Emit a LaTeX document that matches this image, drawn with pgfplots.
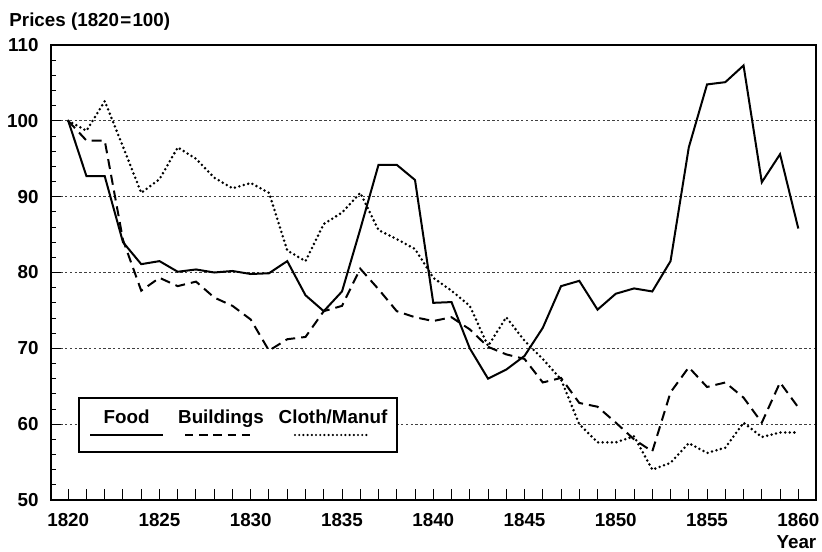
\documentclass[border=0pt]{standalone}
\usepackage{pgfplots}
\pgfplotsset{compat=1.18}
\usepackage{fontspec}
\setmainfont{Liberation Sans}
\usepackage{pgfplotstable}

\pgfplotstableread{
year food build cloth
1820 100   100   100
1821 92.7  97.4  98.7
1822 92.7  97.4  102.6
1823 84.0  84.3  96.6
1824 81.1  77.6  90.5
1825 81.5  79.3  92.3
1826 80.1  78.2  96.5
1827 80.4  78.8  95.0
1828 80.0  76.7  92.5
1829 80.2  75.6  91.1
1830 79.8  73.8  91.8
1831 79.9  69.7  90.5
1832 81.5  71.2  82.9
1833 77.0  71.5  81.5
1834 74.9  74.9  86.4
1835 77.5  75.6  87.9
1836 85.7  80.5  90.5
1837 94.2  77.8  85.6
1838 94.2  74.9  84.4
1839 92.2  74.1  83.1
1840 76.0  73.6  79.3
1841 76.1  74.1  77.6
1842 70.0  72.5  75.6
1843 66.0  70.2  70.3
1844 67.2  69.2  74.1
1845 69.0  68.6  71.0
1846 72.7  65.5  68.6
1847 78.2  66.1  65.9
1848 78.9  62.8  60.0
1849 75.1  62.3  57.6
1850 77.2  60.2  57.6
1851 77.9  58.0  58.4
1852 77.5  56.4  54.0
1853 81.5  64.2  54.9
1854 96.5  67.5  57.5
1855 104.8 64.9  56.2
1856 105.1 65.5  56.9
1857 107.3 63.5  60.2
1858 91.9  60.2  58.3
1859 95.6  65.5  58.9
1860 85.8  62.2  58.9
}\data

\begin{document}
\begin{tikzpicture}[font=\fontsize{9.4bp}{11bp}\selectfont\bfseries]
\begin{axis}[
  at={(0,0)}, anchor=south west,
  scale only axis, width=382.65bp, height=227.5bp,
  xmin=1819.04, xmax=1860.97, ymin=50, ymax=110,
  axis line style={line width=1bp},
  xtick={1820,1825,...,1860}, minor x tick num=4,
  ytick={50,60,...,110},
  extra y ticks={52,54,56,58,62,64,66,68,72,74,76,78,82,84,86,88,92,94,96,98,102,104,106,108},
  extra y tick labels={},
  extra y tick style={major tick length=2.7bp, grid=none},
  xtick pos=bottom, ytick pos=left, tick align=inside,
  major tick length=5.3bp, minor tick length=5.3bp,
  every tick/.style={black, line width=0.5bp},
  ymajorgrids,
  major grid style={black!75, line width=0.45bp, dash pattern=on 1.2bp off 1.2bp},
  /pgf/number format/assume math mode=true,
  /pgf/number format/1000 sep={},
  tick label style={font=\fontsize{9.4bp}{11bp}\selectfont\bfseries},
  xticklabel style={yshift=-3.1bp},
  yticklabel style={xshift=-2.6bp},
]
\addplot[black, line width=1bp] table[x=year, y=food] {\data};
\addplot[black, line width=1bp, dash pattern=on 5bp off 3bp] table[x=year, y=build] {\data};
\addplot[black, line width=1.4bp, line cap=round, dash pattern=on 0bp off 2.3bp] table[x=year, y=cloth] {\data};
\end{axis}
% legend
\draw[line width=0.7bp, fill=white] (14.15bp,24bp) rectangle (173.15bp,51bp);
\node[anchor=base, inner sep=0] at (38bp,38.35bp) {Food};
\node[anchor=base, inner sep=0] at (85.15bp,38.35bp) {Buildings};
\node[anchor=base, inner sep=0] at (141.15bp,38.35bp) {Cloth/Manuf};
\draw[line width=1bp] (19.65bp,32.5bp) -- (56.15bp,32.5bp);
\draw[line width=1bp, dash pattern=on 4.2bp off 2.9bp] (67.15bp,32.5bp) -- (102.15bp,32.5bp);
\draw[line width=1.2bp, line cap=round, dash pattern=on 0bp off 2.1bp] (122.15bp,32.5bp) -- (158.65bp,32.5bp);
% titles
\node[anchor=base west, inner sep=0] at (-20.85bp,236.65bp) {Prices (1820\kern0.6bp=\kern0.6bp100)};
\node[anchor=base east, inner sep=0] at (383bp,-24.2bp) {Year};
\pgfresetboundingbox
\useasboundingbox (-25.35bp,-26bp) rectangle (385.65bp,250bp);
\end{tikzpicture}
\end{document}
